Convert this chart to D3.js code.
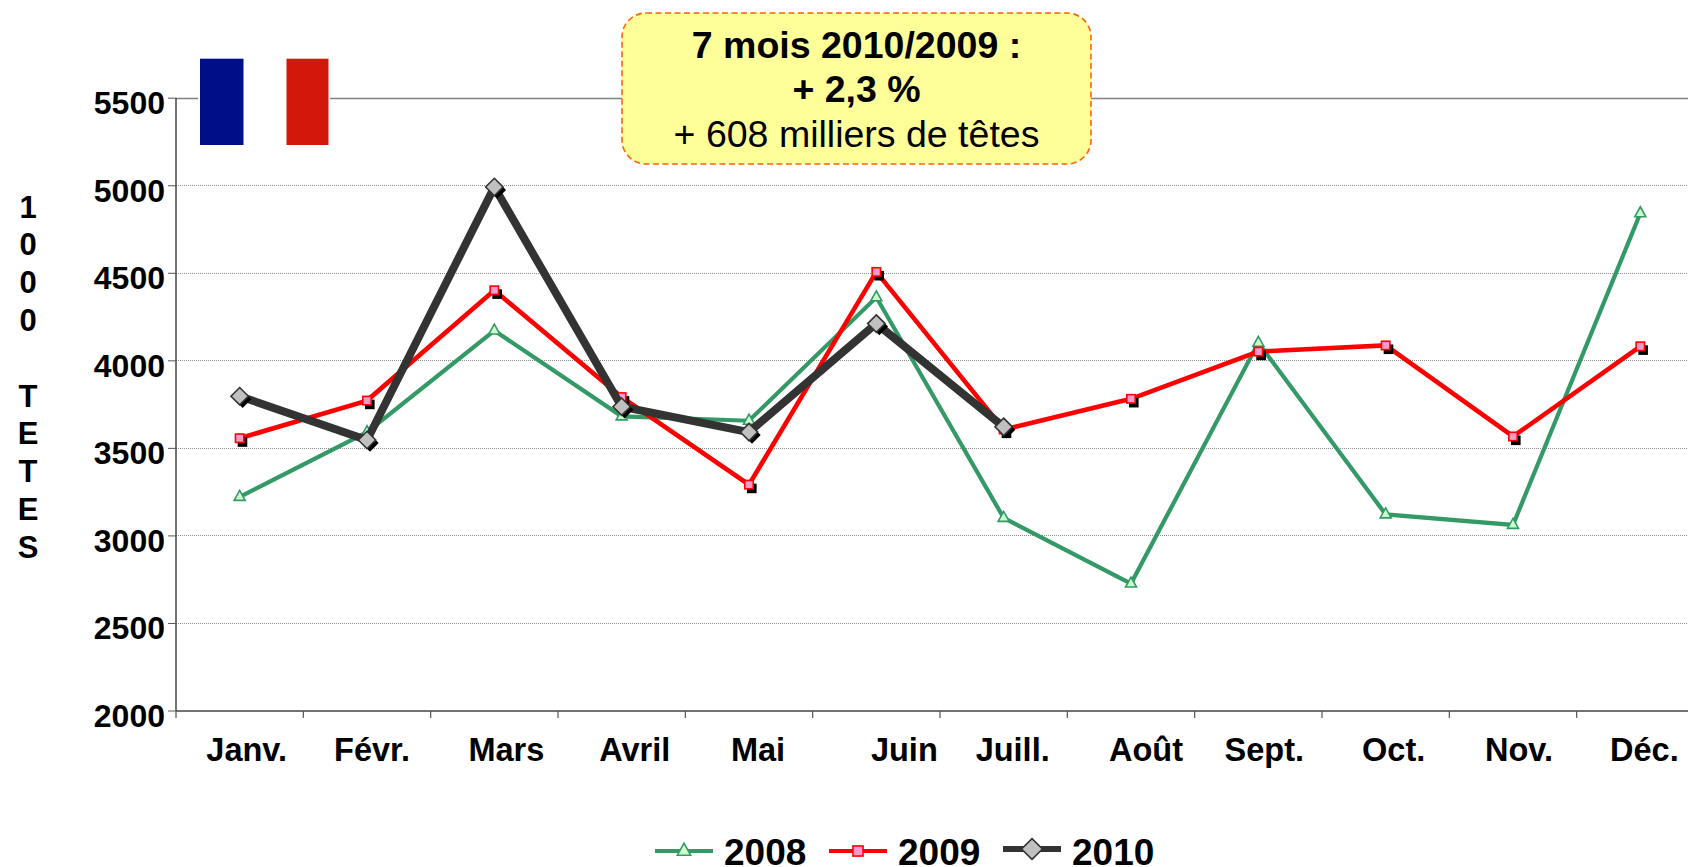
<!DOCTYPE html>
<html lang="fr">
<head>
<meta charset="utf-8">
<script src="https://cdn.jsdelivr.net/npm/d3@7/dist/d3.min.js"></script>
<style>
html,body{margin:0;padding:0;background:#fff;overflow:hidden}
svg{display:block}
text{font-family:"Liberation Sans",Arial,sans-serif;fill:#000}
</style>
</head>
<body>
<svg id="c" width="1688" height="867"></svg>
<script>
const months = ["Janv.","Févr.","Mars","Avril","Mai","Juin","Juill.","Août","Sept.","Oct.","Nov.","Déc."];
const values2008 = [3220,3590,4170,3680,3655,4360,3100,2725,4100,3120,3060,4840];
const values2009 = [3555,3770,4400,3790,3290,4505,3605,3780,4050,4085,3565,4080];
const values2010 = [3795,3545,4990,3735,3590,4210,3620];
const yTicks = [2000,2500,3000,3500,4000,4500,5000,5500];
const yTitle = ["1","0","0","0","","T","E","T","E","S"];
const noteLines = ["7 mois 2010/2009 :","+ 2,3 %","+ 608 milliers de têtes"];
const labelNudge = [7,5,12,13,9,28,9,15,6,8,6,4];

const svg = d3.select("#c");
const x = d3.scaleBand().domain(months).range([176,1704]);
const y = d3.scaleLinear().domain([2000,5500]).range([710.5,97.7]);
const px = m => x(m)+x.bandwidth()/2;
const rowY = v => Math.round(y(v))+.5;

// grid
svg.append("g").selectAll("line").data(yTicks.filter(t=>t>2000)).join("line")
  .attr("x1",176).attr("x2",1688).attr("y1",rowY).attr("y2",rowY)
  .attr("stroke",d=>d===5500?"#808080":"#8c8c8c")
  .attr("stroke-width",d=>d===5500?1.4:1)
  .attr("stroke-dasharray",d=>d===5500?null:"1 1");

// axes
const gy = svg.append("g").attr("transform","translate(176,0)")
  .call(d3.axisLeft(y).tickValues(yTicks).tickSize(8).tickPadding(3).tickFormat(d3.format("d")));
const gx = svg.append("g").attr("transform","translate(0,711)")
  .call(d3.axisBottom(x).tickSize(0).tickPadding(26.5));
gx.selectAll(".tick text").attr("dx",(d,i)=>labelNudge[i]);
svg.append("g").selectAll("line").data(months).join("line")
  .attr("x1",d=>x(d)).attr("x2",d=>x(d)).attr("y1",711).attr("y2",718).attr("stroke","#555").attr("stroke-width",1.2);
[gx,gy].forEach(g=>{
  g.selectAll(".domain").attr("stroke","#444").attr("stroke-width",1.5);
  g.selectAll(".tick line").attr("stroke","#555");
  g.selectAll(".tick text").style("font-family",'"Liberation Sans",Arial,sans-serif').style("font-weight","bold").attr("fill","#000");
});
gy.selectAll(".tick text").style("font-size","32px").attr("dy","0.5em");
gx.selectAll(".tick text").style("font-size","32.5px");
gy.select(".domain").attr("d","M176,98V711").attr("transform","translate(-176,0)");
gx.select(".domain").attr("d","M176,0H1688");

// y title
svg.append("g").selectAll("text").data(yTitle).join("text")
  .attr("x",28).attr("y",(d,i)=>217.5+i*37.8).attr("text-anchor","middle")
  .style("font-size","31px").style("font-weight","bold").text(d=>d);

// series
const series = [
 {name:"2008",vals:values2008,color:"#339966",w:4.2,fill:"#CCFFCC",sym:"tri",legendY:851,lx:655},
 {name:"2009",vals:values2009,color:"#FF0000",w:4.6,fill:"#FF99CC",sym:"sq",legendY:851,lx:829},
 {name:"2010",vals:values2010,color:"#333333",w:8,fill:"#C0C0C0",sym:"dia",legendY:849,lx:1003}
];
const line = d3.line().x((d,i)=>px(months[i])).y(d=>y(d));
function marker(g,s,cx,cy,shadow,k){
  if(s.sym==="tri"){
    g.append("path").attr("d",`M${cx},${cy-6.5*k}L${cx+5.5*k},${cy+3.5*k}L${cx-5.5*k},${cy+3.5*k}Z`)
     .attr("fill",s.fill).attr("stroke",s.color).attr("stroke-width",1.6);
  } else if(s.sym==="sq"){
    if(shadow) g.append("rect").attr("x",cx-2).attr("y",cy-1).attr("width",9.6).attr("height",9.6).attr("fill","#000");
    g.append("rect").attr("x",cx-4.2*k).attr("y",cy-4.2*k).attr("width",8.4*k).attr("height",8.4*k)
     .attr("fill",s.fill).attr("stroke",s.color).attr("stroke-width",1.6);
  } else {
    const r=8.7*k;
    if(shadow) g.append("path").attr("d",`M${cx+3},${cy+3-r}L${cx+3+r},${cy+3}L${cx+3},${cy+3+r}L${cx+3-r},${cy+3}Z`).attr("fill","#000");
    g.append("path").attr("d",`M${cx},${cy-r}L${cx+r},${cy}L${cx},${cy+r}L${cx-r},${cy}Z`)
     .attr("fill",s.fill).attr("stroke",s.color).attr("stroke-width",1.6);
  }
}
series.forEach(s=>{
  const g = svg.append("g");
  g.append("path").attr("d",line(s.vals)).attr("fill","none").attr("stroke",s.color).attr("stroke-width",s.w).attr("stroke-linejoin","miter");
  s.vals.forEach((v,i)=>marker(g,s,px(months[i]),y(v),true,1));
  const l = svg.append("g");
  l.append("line").attr("x1",s.lx).attr("x2",s.lx+58).attr("y1",s.legendY).attr("y2",s.legendY).attr("stroke",s.color).attr("stroke-width",s.w>5?6:4.2);
  marker(l,s,s.lx+29,s.legendY,false,1.2);
  l.append("text").attr("x",s.lx+69).attr("y",865).style("font-size","37px").style("font-weight","bold").text(s.name);
});

// flag
svg.append("rect").attr("x",198).attr("y",58).attr("width",132).attr("height",88).attr("fill","#fff");
svg.append("rect").attr("x",200).attr("y",58.7).attr("width",43.5).attr("height",86.3).attr("fill","#000F87");
svg.append("rect").attr("x",286.5).attr("y",58.7).attr("width",42).attr("height",86.3).attr("fill","#D2180A");

// note
svg.append("rect").attr("x",622).attr("y",13).attr("width",469).attr("height",151).attr("rx",24).attr("ry",24)
  .attr("fill","#FFFF99").attr("stroke","#FF6600").attr("stroke-width",1.6).attr("stroke-dasharray","6 3.5");
svg.append("g").selectAll("text").data(noteLines).join("text")
  .attr("x",856.5).attr("y",(d,i)=>[58,102,147][i]).attr("text-anchor","middle")
  .style("font-size","37.5px").style("font-weight",(d,i)=>i<2?"bold":"normal").text(d=>d);
</script>
</body>
</html>
